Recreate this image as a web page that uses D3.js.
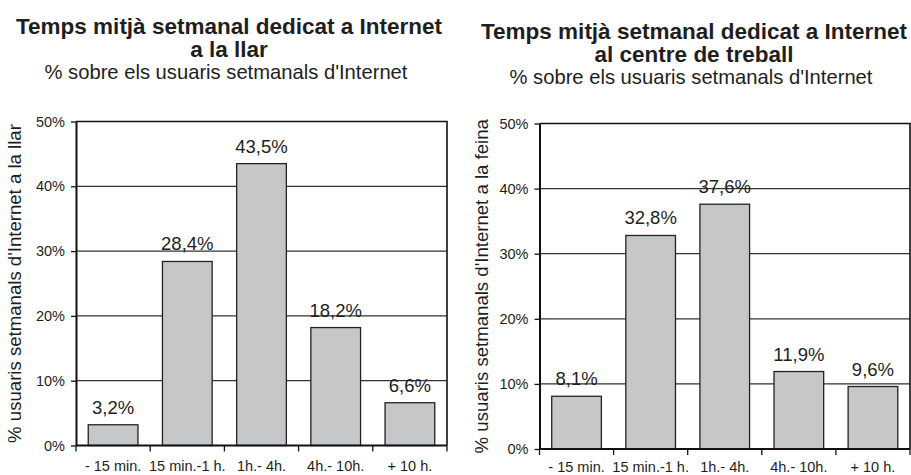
<!DOCTYPE html>
<html>
<head>
<meta charset="utf-8">
<script src="https://cdn.jsdelivr.net/npm/d3@7"></script>
<style>
  body { margin: 0; background: #fff; }
  svg { display: block; font-family: "Liberation Sans", Arial, sans-serif; }
</style>
</head>
<body>
<svg id="chart" width="911" height="475"></svg>
<script>
// categories and values
const categories = ["- 15 min.", "15 min.-1 h.", "1h.- 4h.", "4h.- 10h.", "+ 10 h."];
const homeValues = [3.2, 28.4, 43.5, 18.2, 6.6];
const workValues = [8.1, 32.8, 37.6, 11.9, 9.6];
const yTicks = [0, 10, 20, 30, 40, 50];

const homeTitle = ["Temps mitjà setmanal dedicat a Internet", "a la llar"];
const workTitle = ["Temps mitjà setmanal dedicat a Internet", "al centre de treball"];
const subtitle = "% sobre els usuaris setmanals d'Internet";
const homeAxisTitle = "% usuaris setmanals d'Internet a la llar";
const workAxisTitle = "% usuaris setmanals d'Internet a la feina";

const locale = d3.formatLocale({decimal: ",", thousands: ".", grouping: [3], currency: ["", "€"]});
const fmt = locale.format(".1f");

const svg = d3.select("#chart");

function drawPanel(p) {
    const g = svg.append("g");

    // titles
    g.append("text")
        .attr("x", p.titleX).attr("y", p.titleY)
        .attr("text-anchor", "middle")
        .style("font-weight", "bold").style("font-size", "22.5px").style("fill", "#1e1e1e")
        .selectAll("tspan")
        .data(p.title)
        .join("tspan")
        .attr("x", p.titleX)
        .attr("dy", (d, i) => i == 0 ? 0 : 22.5)
        .text(d => d);

    g.append("text")
        .attr("x", p.titleX - 3).attr("y", p.titleY + 45)
        .attr("text-anchor", "middle")
        .style("font-size", "20.2px").style("fill", "#1e1e1e")
        .text(subtitle);

    const x = d3.scaleBand()
        .domain(categories)
        .range([p.x0, p.x1])
        .paddingInner(0.33)
        .paddingOuter(0.165);

    const y = d3.scaleLinear()
        .domain([0, 50])
        .range([p.y0, p.y1]);

    // gridlines
    g.append("g")
        .selectAll("line")
        .data(yTicks.filter(d => d > 0 && d < 50))
        .join("line")
        .attr("x1", p.x0).attr("x2", p.x1)
        .attr("y1", d => y(d)).attr("y2", d => y(d))
        .attr("stroke", "#333").attr("stroke-width", 1.3);

    // top and right frame
    g.append("path")
        .attr("d", `M${p.x0},${y(50)}H${p.x1}V${y(0)}`)
        .attr("fill", "none").attr("stroke", "#111").attr("stroke-width", 1.6);

    // bars
    g.append("g")
        .selectAll("rect")
        .data(p.values)
        .join("rect")
        .attr("x", (d, i) => x(categories[i]))
        .attr("y", d => y(d))
        .attr("width", x.bandwidth())
        .attr("height", d => y(0) - y(d))
        .attr("fill", "#c6c7c8")
        .attr("stroke", "#222").attr("stroke-width", 1.3);

    // value labels
    g.append("g")
        .selectAll("text")
        .data(p.values)
        .join("text")
        .attr("x", (d, i) => x(categories[i]) + x.bandwidth() / 2)
        .attr("y", d => y(d) - 11)
        .attr("text-anchor", "middle")
        .style("font-size", "18.5px").style("fill", "#1e1e1e")
        .text(d => fmt(d) + "%");

    // y axis
    const yAxis = g.append("g")
        .attr("transform", `translate(${p.x0},0)`)
        .call(d3.axisLeft(y).tickValues(yTicks).tickFormat(d => d + "%").tickSizeInner(5).tickSizeOuter(0).tickPadding(6));
    yAxis.select(".domain").attr("stroke", "#111").attr("stroke-width", 2);
    yAxis.selectAll(".tick line").attr("stroke", "#111").attr("stroke-width", 1.3);
    yAxis.selectAll("text").style("font-size", "14.5px").style("fill", "#1e1e1e").style("font-family", "Liberation Sans, Arial, sans-serif");

    // x axis, ticks at category boundaries
    const xAxis = g.append("g")
        .attr("transform", `translate(0,${y(0)})`);
    xAxis.append("line")
        .attr("x1", p.x0).attr("x2", p.x1)
        .attr("stroke", "#111").attr("stroke-width", 2);
    xAxis.selectAll(".bound")
        .data(categories.concat(["end"]))
        .join("line")
        .attr("class", "bound")
        .attr("x1", (d, i) => i < categories.length ? x(d) - x.step() * x.paddingOuter() : p.x1)
        .attr("x2", (d, i) => i < categories.length ? x(d) - x.step() * x.paddingOuter() : p.x1)
        .attr("y1", 0).attr("y2", 6)
        .attr("stroke", "#111").attr("stroke-width", 1.3);
    xAxis.selectAll(".lab")
        .data(categories)
        .join("text")
        .attr("class", "lab")
        .attr("x", d => x(d) + x.bandwidth() / 2)
        .attr("y", p.labelDy)
        .attr("text-anchor", "middle")
        .style("font-size", "14.5px").style("fill", "#1e1e1e")
        .text(d => d);

    // rotated axis title
    g.append("text")
        .attr("transform", `translate(${p.axisTitleX},${(y(0) + y(50)) / 2}) rotate(-90)`)
        .attr("text-anchor", "middle")
        .style("font-size", "18.6px").style("fill", "#1e1e1e")
        .text(p.axisTitle);
}

drawPanel({title: homeTitle, titleX: 229, titleY: 34, values: homeValues, axisTitle: homeAxisTitle,
    x0: 76, x1: 447, y0: 445.5, y1: 121.5, labelDy: 25.5, axisTitleX: 21});
drawPanel({title: workTitle, titleX: 694, titleY: 39, values: workValues, axisTitle: workAxisTitle,
    x0: 539.5, x1: 910, y0: 449, y1: 123.5, labelDy: 22.5, axisTitleX: 488});
</script>
</body>
</html>
